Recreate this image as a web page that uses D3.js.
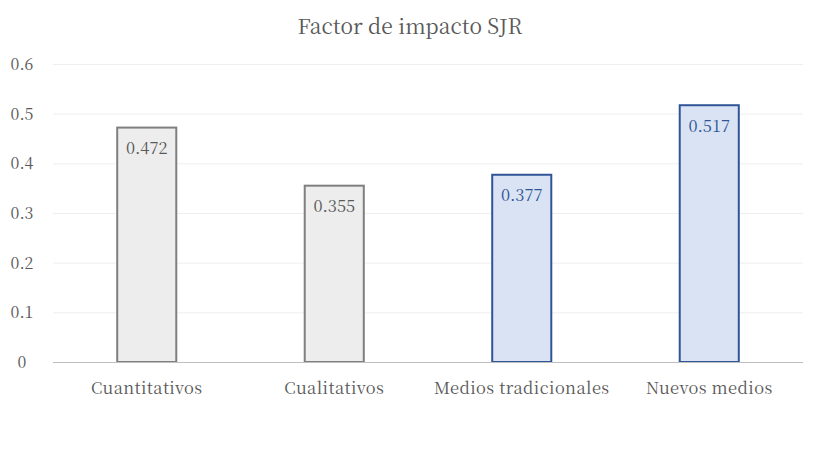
<!DOCTYPE html>
<html><head><meta charset="utf-8">
<script src="https://cdn.jsdelivr.net/npm/d3@7"></script>
<style>body{margin:0;background:#fff}svg{display:block}</style>
</head><body><svg id="c" width="818" height="460"></svg>
<script>
const categories = ["Cuantitativos","Cualitativos","Medios tradicionales","Nuevos medios"];
const values = [0.472, 0.355, 0.377, 0.517];
const groups = ["gray","gray","blue","blue"];
const yTicks = [0,0.1,0.2,0.3,0.4,0.5,0.6];
const title = "Factor de impacto SJR";

const FONT = '"Noto Serif CJK SC","Liberation Serif",serif';
const svg = d3.select("#c").attr("font-family", FONT);
const m = {l:53, r:15, t:64, b:98};
const W = 818, H = 460;
const x = d3.scaleBand().domain(categories).range([m.l, W-m.r]).paddingInner(0.685).paddingOuter(0.3425);
const y = d3.scaleLinear().domain([0,0.6]).range([H-m.b, m.t]);
const fills = {gray:"#ededed", blue:"#dae3f3"};
const strokes = {gray:"#7f7f7f", blue:"#2f5597"};
const textCol = {gray:"#595959", blue:"#2f5597"};

svg.append("text").attr("x",410).attr("y",34).attr("text-anchor","middle")
  .attr("font-family",FONT).attr("font-size",21).attr("fill","#595959").text(title);

svg.append("g").selectAll("line").data(yTicks.filter(d=>d>0)).join("line")
  .attr("x1",m.l).attr("x2",W-m.r).attr("y1",d=>y(d)+0.5).attr("y2",d=>y(d)+0.5)
  .attr("stroke","#eeeeee").attr("stroke-width",1);

const yAxis = svg.append("g").attr("transform",`translate(${m.l-31},0)`)
  .call(d3.axisLeft(y).tickValues(yTicks).tickFormat(d=>d===0?"0":d3.format(".1f")(d)).tickSize(0).tickPadding(0));
yAxis.attr("font-family",FONT);
yAxis.select(".domain").remove();
yAxis.selectAll("text").attr("font-family",FONT).attr("font-size",16).attr("fill","#595959").attr("text-anchor","middle").attr("dy","0.35em");

svg.append("g").selectAll("rect").data(values).join("rect")
  .attr("x",(d,i)=>x(categories[i])).attr("width",x.bandwidth())
  .attr("y",d=>y(d)).attr("height",d=>y(0)-y(d))
  .attr("fill",(d,i)=>fills[groups[i]]).attr("stroke",(d,i)=>strokes[groups[i]]).attr("stroke-width",2);

svg.append("g").selectAll("text").data(values).join("text")
  .attr("x",(d,i)=>x(categories[i])+x.bandwidth()/2).attr("y",d=>y(d)+26.5)
  .attr("text-anchor","middle").attr("font-family",FONT).attr("font-size",16.5).attr("fill",(d,i)=>textCol[groups[i]])
  .text(d=>d3.format(".3f")(d));

const xAxis = svg.append("g").attr("transform",`translate(0,${y(0)})`)
  .call(d3.axisBottom(x).tickSize(0).tickPadding(20));
xAxis.attr("font-family",FONT);
xAxis.select(".domain").attr("stroke","#bfbfbf").attr("d",`M${m.l},0.5H${W-m.r}`);
xAxis.selectAll("text").attr("font-family",FONT).attr("font-size",16.5).attr("letter-spacing",0.4).attr("fill","#595959");
</script></body></html>
